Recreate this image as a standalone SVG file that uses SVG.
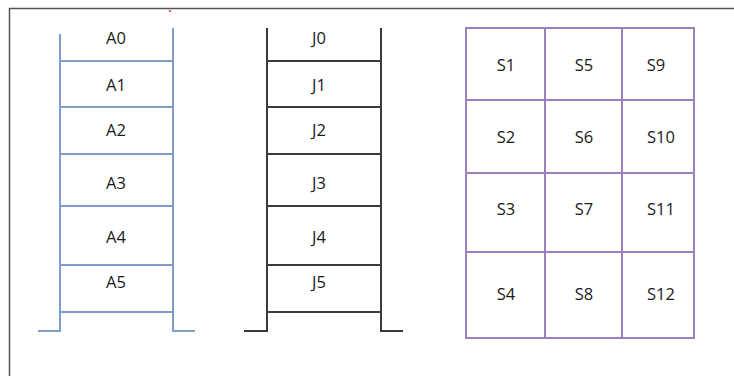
<svg xmlns="http://www.w3.org/2000/svg" width="734" height="376" viewBox="0 0 734 376">
<style>
.lbl{font-family:"Open Sans","Liberation Sans",Arial,sans-serif;font-size:16.5px;fill:#1a1a1a;text-anchor:middle;dominant-baseline:central}
.blue{stroke:#7f9ccd;stroke-width:2;fill:none}
.black{stroke:#3a3a3a;stroke-width:2;fill:none}
.purple{stroke:#9b7fbf;stroke-width:2;fill:none}
</style>
<rect width="734" height="376" fill="#fff"/>
<path d="M9.5 376V8.5H734" stroke="#555" stroke-width="1.5" fill="none"/>
<rect x="169" y="10" width="2" height="2" fill="#f55"/>
<g id="ladderA">
<path class="blue" d="M38 331H60V34M173 28V331H195M60 61H173M60 107H173M60 154H173M60 206H173M60 265H173M60 312H173"/>
<text class="lbl" x="116" y="37">A0</text>
<text class="lbl" x="116" y="84">A1</text>
<text class="lbl" x="116" y="129">A2</text>
<text class="lbl" x="116" y="182">A3</text>
<text class="lbl" x="116" y="236">A4</text>
<text class="lbl" x="116" y="281">A5</text>
</g>
<g id="ladderJ">
<path class="black" d="M244 331H267V28M381 28V331H403M267 61H381M267 107H381M267 154H381M267 206H381M267 265H381M267 312H381"/>
<text class="lbl" x="319" y="37">J0</text>
<text class="lbl" x="319" y="84">J1</text>
<text class="lbl" x="319" y="129">J2</text>
<text class="lbl" x="319" y="182">J3</text>
<text class="lbl" x="319" y="236">J4</text>
<text class="lbl" x="319" y="281">J5</text>
</g>
<g id="grid">
<path class="purple" d="M466 28H694V338H466ZM545 28V338M622 28V338M466 100H694M466 173H694M466 252H694"/>
<text class="lbl" x="506" y="64">S1</text>
<text class="lbl" x="584" y="64">S5</text>
<text class="lbl" x="656" y="64">S9</text>
<text class="lbl" x="506" y="136">S2</text>
<text class="lbl" x="584" y="136">S6</text>
<text class="lbl" x="661" y="136">S10</text>
<text class="lbl" x="506" y="208">S3</text>
<text class="lbl" x="584" y="208">S7</text>
<text class="lbl" x="661" y="208">S11</text>
<text class="lbl" x="506" y="293">S4</text>
<text class="lbl" x="584" y="293">S8</text>
<text class="lbl" x="661" y="293">S12</text>
</g>
</svg>
